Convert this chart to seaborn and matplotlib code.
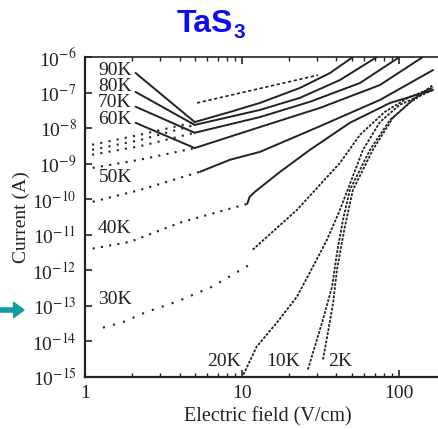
import pandas as pd
import seaborn as sns
import matplotlib.pyplot as plt
from matplotlib.ticker import NullLocator, FixedLocator

sns.set_theme(style="ticks")
plt.rcParams["font.family"] = ["Liberation Serif", "DejaVu Serif"]
plt.rcParams["mathtext.fontset"] = "stix"

# ---- data: electric field (V/cm) and current (A) ----
# low-field (sparse dotted) parts
e_90k_lo = [1.11, 2.24, 5.0]
i_90k_lo = [3.4e-9, 6.5e-9, 1.48e-8]
e_80k_lo = [1.11, 2.24, 5.0]
i_80k_lo = [2.45e-9, 4.6e-9, 1.23e-8]
e_70k_lo = [1.11, 2.24, 5.0]
i_70k_lo = [1.78e-9, 3.1e-9, 7.4e-9]
e_60k_lo = [1.12, 2.24, 5.0]
i_60k_lo = [7.6e-10, 1.29e-9, 2.75e-9]
e_50k_lo = [1.12, 2.24, 5.4]
i_50k_lo = [8.5e-11, 1.82e-10, 5.9e-10]
e_40k_lo = [1.12, 1.93, 4.03, 7.2, 10.8]
i_40k_lo = [4.1e-12, 6.3e-12, 2.19e-11, 4.5e-11, 7.4e-11]
e_30k_lo = [1.30, 1.72, 2.41, 3.85, 6.5, 11.2]
i_30k_lo = [2.45e-14, 3.4e-14, 6.5e-14, 1.32e-13, 3.5e-13, 1.45e-12]

# high-field (dense) parts
e_90k = [5.0, 8.4, 13.0, 23.4, 36.4, 50.9]
i_90k = [1.48e-8, 2.85e-8, 5.1e-8, 1.35e-7, 3.55e-7, 1.0e-6]
e_80k = [5.0, 13.0, 23.4, 42.1, 72.4]
i_80k = [1.23e-8, 3.24e-8, 7.1e-8, 2.25e-7, 1.0e-6]
e_70k = [5.0, 13.0, 27.1, 56.5, 101]
i_70k = [7.4e-9, 2.04e-8, 5.5e-8, 1.86e-7, 1.0e-6]
e_60k = [5.0, 13.0, 31.4, 75.7, 142]
i_60k = [2.75e-9, 1.07e-8, 3.7e-8, 1.63e-7, 1.0e-6]
e_50k = [5.4, 8.4, 13.0, 30.5, 75.7, 165]
i_50k = [5.9e-10, 1.29e-9, 2.14e-9, 1.07e-8, 6.2e-8, 4.3e-7]
e_40k = [10.8, 11.2, 12.1, 17.5, 27.1, 48.7, 87.7, 165]
i_40k = [7.4e-11, 1.17e-10, 1.62e-10, 5.9e-10, 2.45e-9, 1.41e-8, 5.1e-8, 1.18e-7]
e_30k = [11.7, 22.4, 42.1, 56.5, 81.2, 117, 165]
i_30k = [3.8e-12, 5.0e-11, 1.05e-9, 6.5e-9, 2.85e-8, 7.6e-8, 1.35e-7]
e_20k = [10.2, 10.8, 12.4, 16.7, 22.4, 28.3, 34.8, 42.1, 59.0, 75.7, 101, 165]
i_20k = [1.17e-15, 1.95e-15, 7.1e-15, 3.4e-14, 1.82e-13, 1.26e-12, 7.2e-12,
         5.0e-11, 2.45e-9, 1.48e-8, 4.5e-8, 1.18e-7]
e_10k = [26.3, 29.1, 32.8, 37.5, 40.3, 44.0, 48.7, 65.4, 87.7, 117, 165]
i_10k = [1.62e-15, 7.1e-15, 4.1e-14, 3.5e-13, 3.1e-12, 2.63e-11, 1.82e-10,
         2.45e-9, 1.70e-8, 5.1e-8, 1.45e-7]
e_2k = [32.8, 35.3, 38.1, 40.3, 45.2, 50.9, 68.2, 91.5, 122, 165]
i_2k = [3.1e-15, 1.78e-14, 1.23e-13, 1.05e-12, 1.66e-11, 1.82e-10, 2.45e-9,
        1.95e-8, 6.2e-8, 1.63e-7]

# extra dashed trace at the top
e_dash = [5.17, 30.5]
i_dash = [5.1e-8, 3.1e-7]

x_ticks = [1, 10, 100]
x_tick_labels = ["1", "10", "100"]
y_ticks = [1e-15, 1e-14, 1e-13, 1e-12, 1e-11, 1e-10, 1e-9, 1e-8, 1e-7, 1e-6]
y_tick_labels = ["10$^{-15}$", "10$^{-14}$", "10$^{-13}$", "10$^{-12}$", "10$^{-11}$",
                 "10$^{-10}$", "10$^{-9}$", "10$^{-8}$", "10$^{-7}$", "10$^{-6}$"]

labels = ["90K", "80K", "70K", "60K", "50K", "40K", "30K", "20K", "10K", "2K"]
label_e = [1.55, 1.55, 1.55, 1.55, 1.57, 1.55, 1.55, 7.68, 18.2, 42.1]
label_i = [4.3e-7, 1.44e-7, 5.1e-8, 1.7e-8, 4.0e-10, 1.48e-11, 1.48e-13, 2.7e-15, 2.7e-15, 2.7e-15]

# leader lines from the 90K..60K labels to the curves
lead_start_i = [3.55e-7, 1.04e-7, 4.0e-8, 1.41e-8]
lead_end_i = [1.48e-8, 1.23e-8, 7.4e-9, 2.75e-9]

ink = "#222222"

fig = plt.figure(figsize=(4.39, 4.29), dpi=100)
ax = fig.add_axes([85 / 439, 52 / 429, 354 / 439, 320 / 429])
ax.set_xscale("log")
ax.set_yscale("log")

dotted = [(e_90k_lo, i_90k_lo), (e_80k_lo, i_80k_lo), (e_70k_lo, i_70k_lo),
          (e_60k_lo, i_60k_lo), (e_50k_lo, i_50k_lo), (e_40k_lo, i_40k_lo)]
for e, i in dotted:
    sns.lineplot(x=e, y=i, ax=ax, color=ink, lw=1.5, linestyle=(0, (1, 3)),
                 estimator=None, sort=False)
sns.lineplot(x=e_30k_lo, y=i_30k_lo, ax=ax, color=ink, lw=1.5, linestyle=(0, (1, 4)),
             estimator=None, sort=False)

solid = [(e_90k, i_90k), (e_80k, i_80k), (e_70k, i_70k), (e_60k, i_60k),
         (e_50k, i_50k), (e_40k, i_40k)]
for e, i in solid:
    sns.lineplot(x=e, y=i, ax=ax, color=ink, lw=1.4, estimator=None, sort=False)

for e, i in [(e_30k, i_30k), (e_20k, i_20k), (e_10k, i_10k), (e_2k, i_2k)]:
    sns.lineplot(x=e, y=i, ax=ax, color=ink, lw=1.3, linestyle=(0, (1.5, 0.8)),
                 estimator=None, sort=False)

sns.lineplot(x=e_dash, y=i_dash, ax=ax, color=ink, lw=1.2, linestyle=(0, (2, 1.5)),
             estimator=None, sort=False)

for t, x, y in zip(labels, label_e, label_i):
    ax.text(x, y, t, ha="center", va="center", fontsize=14, color=ink)

for s, e in zip(lead_start_i, lead_end_i):
    ax.annotate("", xy=(5.0, e), xytext=(2.1, s),
                arrowprops=dict(arrowstyle="-", lw=1.4, color=ink,
                                shrinkA=0, shrinkB=0))

ax.set_xlim(1, 180)
ax.set_ylim(1e-15, 1e-6)
ax.xaxis.set_major_locator(FixedLocator(x_ticks))
ax.set_xticklabels(x_tick_labels)
ax.yaxis.set_major_locator(FixedLocator(y_ticks))
ax.set_yticklabels(y_tick_labels)
ax.yaxis.set_minor_locator(NullLocator())
ax.tick_params(which="both", direction="in", top=True, right=False,
               labelsize=14, labelcolor=ink, color=ink, pad=6)
ax.tick_params(which="major", length=5, width=1.2)
ax.tick_params(which="minor", length=3, width=1.0)

for side in ["left", "bottom"]:
    ax.spines[side].set_linewidth(1.6)
    ax.spines[side].set_color(ink)
ax.spines["top"].set_linewidth(1.2)
ax.spines["top"].set_color(ink)
ax.spines["right"].set_visible(False)

ax.set_xlabel("Electric field (V/cm)", fontsize=14.5, color=ink)
ax.xaxis.set_label_coords(0.517, -0.095)
ax.set_ylabel("Current (A)", fontsize=14, color=ink)
ax.yaxis.set_label_coords(-0.155, 0.5)

# title: TaS3 in blue
blue = "#0c0cf2"
fig.text(233 / 439, 1 - 32 / 429, "TaS", ha="right", va="baseline", fontsize=23,
         weight="bold", color=blue, family="Liberation Sans")
fig.text(234 / 439, 1 - 38 / 429, "3", ha="left", va="baseline", fontsize=15,
         weight="bold", color=blue, family="Liberation Sans")

# teal arrow pointing at the 10^-13 label
ax.annotate("", xy=(24, 119), xytext=(0, 119), xycoords="figure pixels",
            textcoords="figure pixels",
            arrowprops=dict(arrowstyle="simple,head_length=0.75,head_width=1.1,tail_width=0.3",
                            color="#149c9c", mutation_scale=10, shrinkA=0, shrinkB=0))

fig.savefig("out.png", dpi=100)
